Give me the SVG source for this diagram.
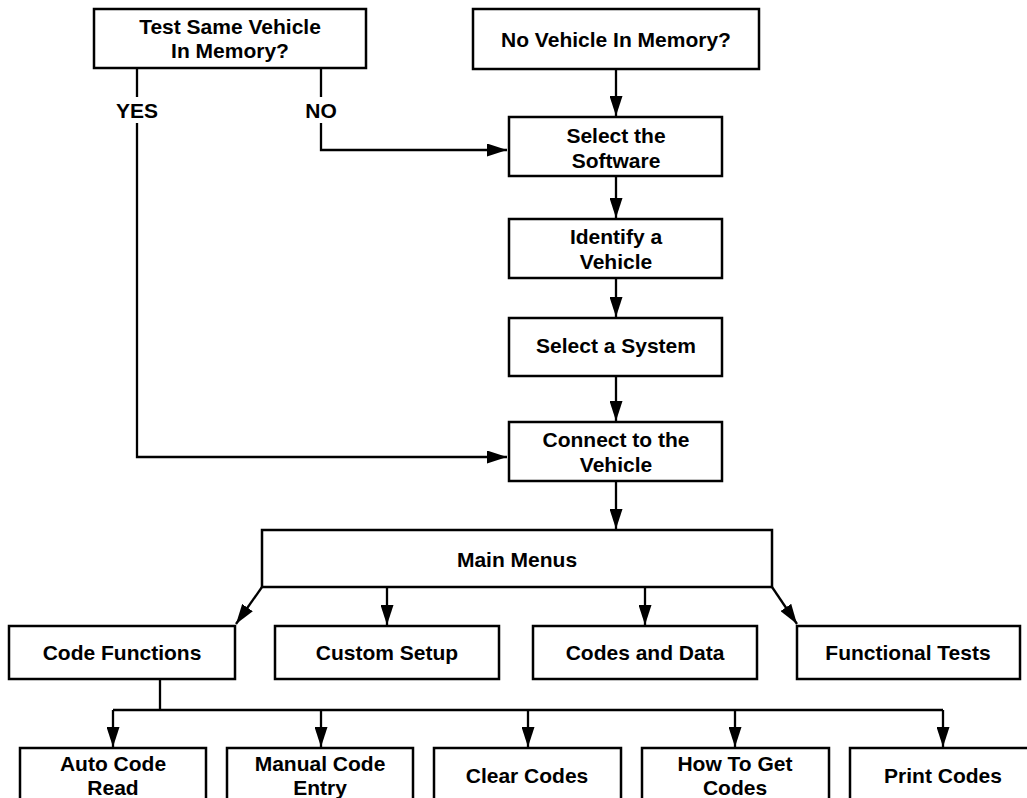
<svg xmlns="http://www.w3.org/2000/svg" width="1027" height="798" viewBox="0 0 1027 798">
<style>
.box{fill:#fff;stroke:#000;stroke-width:2.5}
.t{font-family:"Liberation Sans",Arial,sans-serif;font-weight:bold;font-size:21px;text-anchor:middle;fill:#000}
.c{fill:none;stroke:#000;stroke-width:2.3}
</style>
<defs>
<marker id="ah" markerUnits="userSpaceOnUse" markerWidth="20" markerHeight="13" refX="20" refY="6.5" orient="auto">
<path d="M0,0 L20,6.5 L0,13 z" fill="#000"/>
</marker>
</defs>
<rect width="1027" height="798" fill="#fff"/>
<g id="connectors">
<path class="c" d="M137,68 V97 M137,123 V457 H507" marker-end="url(#ah)"/>
<path class="c" d="M321,68 V97 M321,123 V150 H507" marker-end="url(#ah)"/>
<path class="c" d="M616,69 V116" marker-end="url(#ah)"/>
<path class="c" d="M616,176 V218" marker-end="url(#ah)"/>
<path class="c" d="M616,278 V317" marker-end="url(#ah)"/>
<path class="c" d="M616,376 V421" marker-end="url(#ah)"/>
<path class="c" d="M616,481 V529" marker-end="url(#ah)"/>
<path class="c" d="M262,587 L236,624" marker-end="url(#ah)"/>
<path class="c" d="M387,587 V625" marker-end="url(#ah)"/>
<path class="c" d="M645,587 V625" marker-end="url(#ah)"/>
<path class="c" d="M772,587 L797,624" marker-end="url(#ah)"/>
<path class="c" d="M160,680 V710"/>
<path class="c" d="M113,710 H943"/>
<path class="c" d="M113,710 V747" marker-end="url(#ah)"/>
<path class="c" d="M321,710 V747" marker-end="url(#ah)"/>
<path class="c" d="M528,710 V747" marker-end="url(#ah)"/>
<path class="c" d="M735,710 V747" marker-end="url(#ah)"/>
<path class="c" d="M943,710 V747" marker-end="url(#ah)"/>
</g>
<text class="t" x="137" y="118">YES</text>
<text class="t" x="321" y="118">NO</text>
<g id="test-same">
<rect class="box" x="94" y="9" width="272" height="59"/>
<text class="t" x="230" y="34">Test Same Vehicle</text>
<text class="t" x="230" y="58">In Memory?</text>
</g>
<g id="no-vehicle">
<rect class="box" x="473" y="9" width="286" height="60"/>
<text class="t" x="616" y="47">No Vehicle In Memory?</text>
</g>
<g id="select-software">
<rect class="box" x="509" y="117" width="213" height="59"/>
<text class="t" x="616" y="143">Select the</text>
<text class="t" x="616" y="168">Software</text>
</g>
<g id="identify">
<rect class="box" x="509" y="219" width="213" height="59"/>
<text class="t" x="616" y="244">Identify a</text>
<text class="t" x="616" y="269">Vehicle</text>
</g>
<g id="select-system">
<rect class="box" x="509" y="318" width="213" height="58"/>
<text class="t" x="616" y="353">Select a System</text>
</g>
<g id="connect">
<rect class="box" x="509" y="422" width="213" height="59"/>
<text class="t" x="616" y="447">Connect to the</text>
<text class="t" x="616" y="472">Vehicle</text>
</g>
<g id="main-menus">
<rect class="box" x="262" y="530" width="510" height="57"/>
<text class="t" x="517" y="567">Main Menus</text>
</g>
<g id="code-functions">
<rect class="box" x="9" y="626" width="226" height="53"/>
<text class="t" x="122" y="660">Code Functions</text>
</g>
<g id="custom-setup">
<rect class="box" x="275" y="626" width="224" height="53"/>
<text class="t" x="387" y="660">Custom Setup</text>
</g>
<g id="codes-data">
<rect class="box" x="533" y="626" width="224" height="53"/>
<text class="t" x="645" y="660">Codes and Data</text>
</g>
<g id="functional-tests">
<rect class="box" x="797" y="626" width="223" height="53"/>
<text class="t" x="908" y="660">Functional Tests</text>
</g>
<g id="auto-code">
<rect class="box" x="20" y="748" width="186" height="62"/>
<text class="t" x="113" y="771">Auto Code</text>
<text class="t" x="113" y="795">Read</text>
</g>
<g id="manual-code">
<rect class="box" x="227" y="748" width="186" height="62"/>
<text class="t" x="320" y="771">Manual Code</text>
<text class="t" x="320" y="795">Entry</text>
</g>
<g id="clear-codes">
<rect class="box" x="434" y="748" width="187" height="62"/>
<text class="t" x="527" y="783">Clear Codes</text>
</g>
<g id="how-to">
<rect class="box" x="642" y="748" width="187" height="62"/>
<text class="t" x="735" y="771">How To Get</text>
<text class="t" x="735" y="795">Codes</text>
</g>
<g id="print-codes">
<rect class="box" x="850" y="748" width="186" height="62"/>
<text class="t" x="943" y="783">Print Codes</text>
</g>
</svg>
